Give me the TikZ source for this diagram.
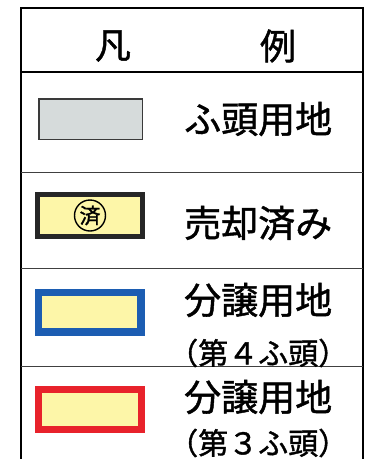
\documentclass[tikz,border=0pt]{standalone}
\usepackage{fontspec}
\setmainfont{Noto Sans CJK JP}[FakeBold=1.2]
\usetikzlibrary{positioning}

\definecolor{swgray}{HTML}{D6DBDB}
\definecolor{swedge}{HTML}{3A3A3A}
\definecolor{swyellow}{HTML}{FDF6A8}
\definecolor{swblue}{HTML}{1C5DB2}
\definecolor{swred}{HTML}{E8222B}

\begin{document}
\begin{tikzpicture}[x=1pt, y=-1pt,
  frame/.style={line width=2pt},
  rowsep/.style={line width=1pt, black!75},
  swatch/.style={minimum width=110pt-#1, minimum height=47pt-#1, line width=#1, inner sep=0pt, draw, fill=swyellow},
  head/.style={inner sep=0pt, font=\fontsize{36}{38}\selectfont},
  big/.style={inner sep=0pt, anchor=west, font=\fontsize{37}{40}\selectfont},
  small/.style={inner sep=0pt, anchor=west, font=\fontsize{30}{32}\selectfont}]
  \useasboundingbox (0,0) rectangle (372,459);
  % table frame
  \draw[frame] (21,459) -- (21,8) -- (363,8) -- (363,459);
  \draw[frame] (21,72) -- (363,72);
  \foreach \y in {172,268,366}
    \draw[rowsep] (21,\y) -- (363,\y);
  % header
  \node[head] (hanrei1) at (113,46) {凡};
  \node[head] (hanrei2) at (278,46) {例};
  % swatches
  \node[draw=swedge, fill=swgray, line width=1.5pt, minimum width=103.5pt, minimum height=40.5pt, inner sep=0pt] (futo) at (90.5,119) {};
  \node[swatch=5pt, draw=black!85] (sold) at (90,215.5) {};
  \node[circle, draw, line width=1.4pt, minimum size=31pt, inner sep=0pt, font=\fontsize{21}{21}\selectfont] (sumi) at (sold) {済};
  \node[swatch=7.5pt, draw=swblue] (lot4) at (89.5,312) {};
  \node[swatch=7pt, draw=swred] (lot3) at (89.5,409.5) {};
  % labels
  \node[big] (futotxt) at (184,119) {ふ頭用地};
  \node[big] (soldtxt) at (184,223) {売却済み};
  \node[big] (lot4txt) at (184,300) {分譲用地};
  \node[small] (lot4sub) at (168,353) {（第４ふ頭）};
  \node[big] (lot3txt) at (184,397) {分譲用地};
  \node[small] (lot3sub) at (168,443) {（第３ふ頭）};
\end{tikzpicture}
\end{document}
